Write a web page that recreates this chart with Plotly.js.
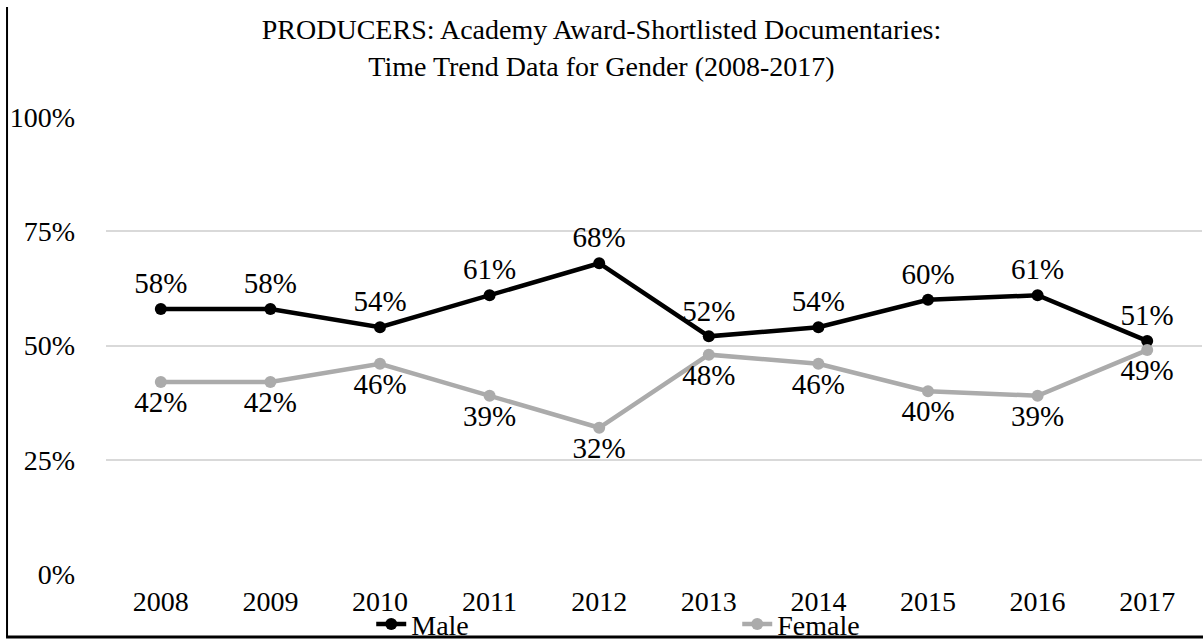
<!DOCTYPE html>
<html>
<head>
<meta charset="utf-8">
<script src="https://cdn.plot.ly/plotly-3.0.1.min.js"></script>
<style>html,body{margin:0;padding:0;background:#fff}#chart{width:1203px;height:641px}</style>
</head>
<body>
<div id="chart"></div>
<script>
const years = ['2008','2009','2010','2011','2012','2013','2014','2015','2016','2017'];
const male = [0.58,0.58,0.54,0.61,0.68,0.52,0.54,0.60,0.61,0.51];
const female = [0.42,0.42,0.46,0.39,0.32,0.48,0.46,0.40,0.39,0.49];
const yTicks = [0,0.25,0.5,0.75,1];
const yTickText = ['0%','25%','50%','75%','100%'];

const font = '"Liberation Serif", "Times New Roman", Times, serif';
const pct = v => Math.round(v*100) + '%';

const traces = [
  {x: years, y: male, name: 'Male', type: 'scatter', mode: 'lines+markers+text',
   line: {color: '#000000', width: 4.5}, marker: {color: '#000000', size: 12},
   text: male.map(pct), textposition: 'top center',
   textfont: {family: font, size: 29, color: '#000'}, cliponaxis: false},
  {x: years, y: female, name: 'Female', type: 'scatter', mode: 'lines+markers+text',
   line: {color: '#ABABAB', width: 4.5}, marker: {color: '#ABABAB', size: 12},
   text: female.map(pct), textposition: 'bottom center',
   textfont: {family: font, size: 29, color: '#000'}, cliponaxis: false}
];

const layout = {
  width: 1203, height: 641,
  margin: {l: 106, r: 1, t: 117, b: 67, autoexpand: false},
  paper_bgcolor: '#fff', plot_bgcolor: '#fff',
  font: {family: font, size: 28, color: '#000'},
  title: {text: 'PRODUCERS: Academy Award-Shortlisted Documentaries:<br>Time Trend Data for Gender (2008-2017)',
          x: 0.5, xref: 'container', xanchor: 'center', y: 0.939, yref: 'container', yanchor: 'middle',
          font: {family: font, size: 28, color: '#000'}},
  xaxis: {type: 'category', range: [-0.5, 9.5], showgrid: false, zeroline: false, showline: false, automargin: false,
          ticks: '', ticklabelstandoff: 8, tickfont: {family: font, size: 28, color: '#000'}, fixedrange: true},
  yaxis: {range: [0, 1], tickvals: yTicks, ticktext: yTickText, showgrid: true, gridcolor: '#D9D9D9', gridwidth: 2,
          zeroline: false, showline: false, ticks: '', ticklabelstandoff: 30, automargin: false,
          tickfont: {family: font, size: 28, color: '#000'}, fixedrange: true},
  showlegend: true,
  legend: {orientation: 'h', x: 0.242, xanchor: 'left', y: -0.11, yanchor: 'middle',
           entrywidth: 321, entrywidthmode: 'pixels', font: {family: font, size: 28, color: '#000'},
           bgcolor: 'rgba(0,0,0,0)'},
  shapes: [
    {type: 'line', xref: 'paper', yref: 'paper', x0: -0.0903, x1: -0.0903, y0: 1.2407, y1: -0.1378,
     line: {color: '#000', width: 2}},
    {type: 'line', xref: 'paper', yref: 'paper', x0: -0.0912, x1: 1.001, y0: -0.1378, y1: -0.1378,
     line: {color: '#000', width: 3}}
  ]
};

Plotly.newPlot('chart', traces, layout, {displayModeBar: false, staticPlot: true});
</script>
</body>
</html>
